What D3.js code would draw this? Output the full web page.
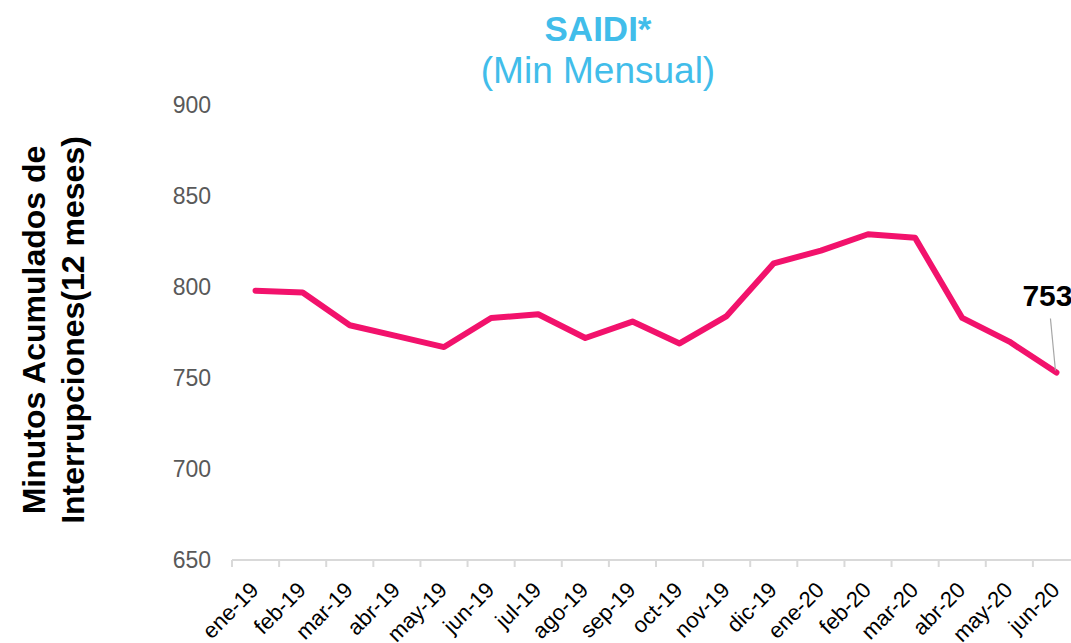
<!DOCTYPE html>
<html><head><meta charset="utf-8">
<script src="https://cdn.jsdelivr.net/npm/d3@7"></script>
<style>
body{margin:0;background:#fff;overflow:hidden}
svg{display:block;font-family:"Liberation Sans",Arial,sans-serif}
</style></head><body>
<svg id="c" width="1071" height="643"></svg>
<script>
const months = ["ene-19","feb-19","mar-19","abr-19","may-19","jun-19","jul-19","ago-19","sep-19","oct-19","nov-19","dic-19","ene-20","feb-20","mar-20","abr-20","may-20","jun-20"];
const saidi = [798,797,779,773,767,783,785,772,781,769,784,813,820,829,827,783,770,753];
const yTicks = [650,700,750,800,850,900];
const title = "SAIDI*";
const subtitle = "(Min Mensual)";
const yTitle = ["Minutos Acumulados de","Interrupciones(12 meses)"];
const lastLabel = "753";

const svg = d3.select("#c");
const x = d3.scaleBand().domain(months).range([232, 1080]);
const y = d3.scaleLinear().domain([650, 900]).range([560, 105]);

// title
svg.append("text").attr("x", 598).attr("y", 41).attr("text-anchor","middle")
  .attr("font-size", 35).attr("font-weight","bold").attr("fill","#41BDEA").text(title);
svg.append("text").attr("x", 598).attr("y", 83).attr("text-anchor","middle")
  .attr("font-size", 37).attr("fill","#41BDEA").text(subtitle);

// y axis (labels only)
const ya = svg.append("g").attr("transform","translate(232,0)")
  .call(d3.axisLeft(y).tickValues(yTicks).tickSize(0).tickPadding(21));
ya.select(".domain").remove();
ya.selectAll("text").attr("font-size", 23).attr("fill","#595959")
  .attr("font-family","Liberation Sans, Arial, sans-serif");

// x axis
const xa = svg.append("g").attr("transform","translate(0,560)")
  .call(d3.axisBottom(x).tickSizeOuter(0).tickSize(0).tickFormat(""));
xa.select(".domain").attr("stroke","#D9D9D9").attr("stroke-width",2)
  .attr("d", "M232,0H1071");
// boundary ticks
const bounds = months.map(m => x(m));
xa.selectAll(".bt").data(bounds).enter().append("line").attr("class","bt")
  .attr("x1", d=>d).attr("x2", d=>d).attr("y1",0).attr("y2",7)
  .attr("stroke","#D9D9D9").attr("stroke-width",2);
// x labels
svg.append("g").selectAll("text").data(months).enter().append("text")
  .attr("transform", d => `translate(${x(d)+x.bandwidth()/2-1},${586}) rotate(-45)`)
  .attr("text-anchor","end").attr("dy","0.35em")
  .attr("font-size", 22).attr("fill","#000").text(d=>d);

// y title
const yt = svg.append("text").attr("transform","translate(0,330) rotate(-90)")
  .attr("text-anchor","middle").attr("font-size",32).attr("font-weight","bold").attr("fill","#000");
yt.append("tspan").attr("x",0).attr("y",45).text(yTitle[0]);
yt.append("tspan").attr("x",0).attr("y",84).text(yTitle[1]);

// line
const cx = m => x(m) + x.bandwidth()/2;
const line = d3.line().x((d,i)=>cx(months[i])).y(d=>y(d));
svg.append("path").datum(saidi).attr("d", line).attr("fill","none")
  .attr("stroke","#F2126C").attr("stroke-width",6).attr("stroke-linejoin","round").attr("stroke-linecap","round");

// last label
const lx = cx(months[months.length-1]), ly = y(saidi[saidi.length-1]);
svg.append("line").attr("x1", lx-6).attr("y1", ly-54).attr("x2", lx-1).attr("y2", ly-2)
  .attr("stroke","#A6A6A6").attr("stroke-width",1.2);
svg.append("text").attr("x", lx-34).attr("y", ly-67).attr("font-size",30).attr("font-weight","bold")
  .attr("fill","#000").text(lastLabel);
</script>
</body></html>
